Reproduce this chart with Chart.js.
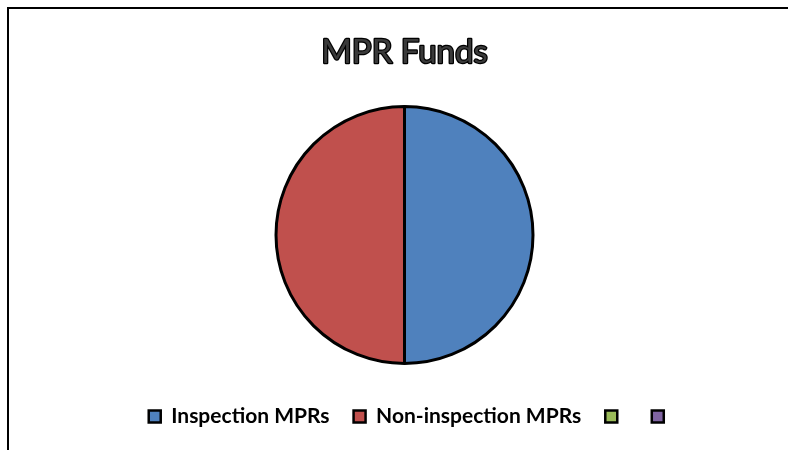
<!DOCTYPE html>
<html>
<head>
<meta charset="utf-8">
<script src="https://cdn.jsdelivr.net/npm/chart.js@4/dist/chart.umd.min.js"></script>
<style>
  body { margin: 0; background: #fff; }
  #wrap { position: relative; width: 788px; height: 450px; }
  #frame { position: absolute; left: 7px; top: 7px; right: 0; bottom: 0; border-top: 2px solid #000; border-left: 2px solid #000; }
  canvas { position: absolute; left: 0; top: 0; }
</style>
</head>
<body>
<div id="wrap">
  <div id="frame"></div>
  <canvas id="pie" width="788" height="450"></canvas>
</div>
<script>
var categories = ["Inspection MPRs", "Non-inspection MPRs", "", ""];
var funds = [50, 50, 0, 0];
var sliceColors = ['#4F81BD', '#C0504D', '#9BBB59', '#8064A2'];

var titleText = "MPR Funds";

// title with a dark outline, drawn over the (invisible) built-in title
var outlinedTitle = {
  id: 'outlinedTitle',
  afterLayout: function (chart) {
    // nudge the legend row a little to the right, like the original
    chart.legend.left += 7;
    chart.legend.right += 7;
  },
  afterDraw: function (chart) {
    var tb = chart.titleBlock;
    if (!tb) return;
    var c = chart.ctx;
    c.save();
    c.font = '33px Lato';
    c.textAlign = 'center';
    c.textBaseline = 'middle';
    var x = (tb.left + tb.right) / 2;
    var y = tb.top + 33 + 19.2;
    c.lineJoin = 'round';
    c.lineWidth = 2.5;
    c.strokeStyle = '#000';
    c.strokeText(titleText, x, y);
    c.fillStyle = '#3a3a3a';
    c.fillText(titleText, x, y);
    c.restore();
  }
};

var baseLabels = Chart.overrides.doughnut.plugins.legend.labels.generateLabels;

new Chart(document.getElementById('pie'), {
  type: 'pie',
  data: {
    labels: categories,
    datasets: [{
      data: funds,
      backgroundColor: sliceColors,
      borderColor: '#000',
      borderWidth: 3,
      radius: 128.5
    }]
  },
  options: {
    responsive: false,
    animation: false,
    layout: { padding: { left: 21, right: 0, top: 0, bottom: 13 } },
    plugins: {
      title: {
        display: true,
        text: titleText,
        color: 'rgba(0,0,0,0)',
        font: { family: 'Lato', size: 32, weight: 'bold' },
        padding: { top: 33, bottom: 16.6 }
      },
      legend: {
        position: 'bottom',
        labels: {
          color: '#000',
          font: { family: 'Lato', size: 21, weight: 'bold' },
          boxWidth: 12,
          boxHeight: 12,
          padding: 24,
          generateLabels: function (chart) {
            var items = baseLabels(chart);
            items.forEach(function (it) { it.lineWidth = 2.5; it.strokeStyle = '#000'; });
            return items;
          }
        }
      },
      tooltip: { enabled: false }
    }
  },
  plugins: [outlinedTitle]
});
</script>
</body>
</html>
